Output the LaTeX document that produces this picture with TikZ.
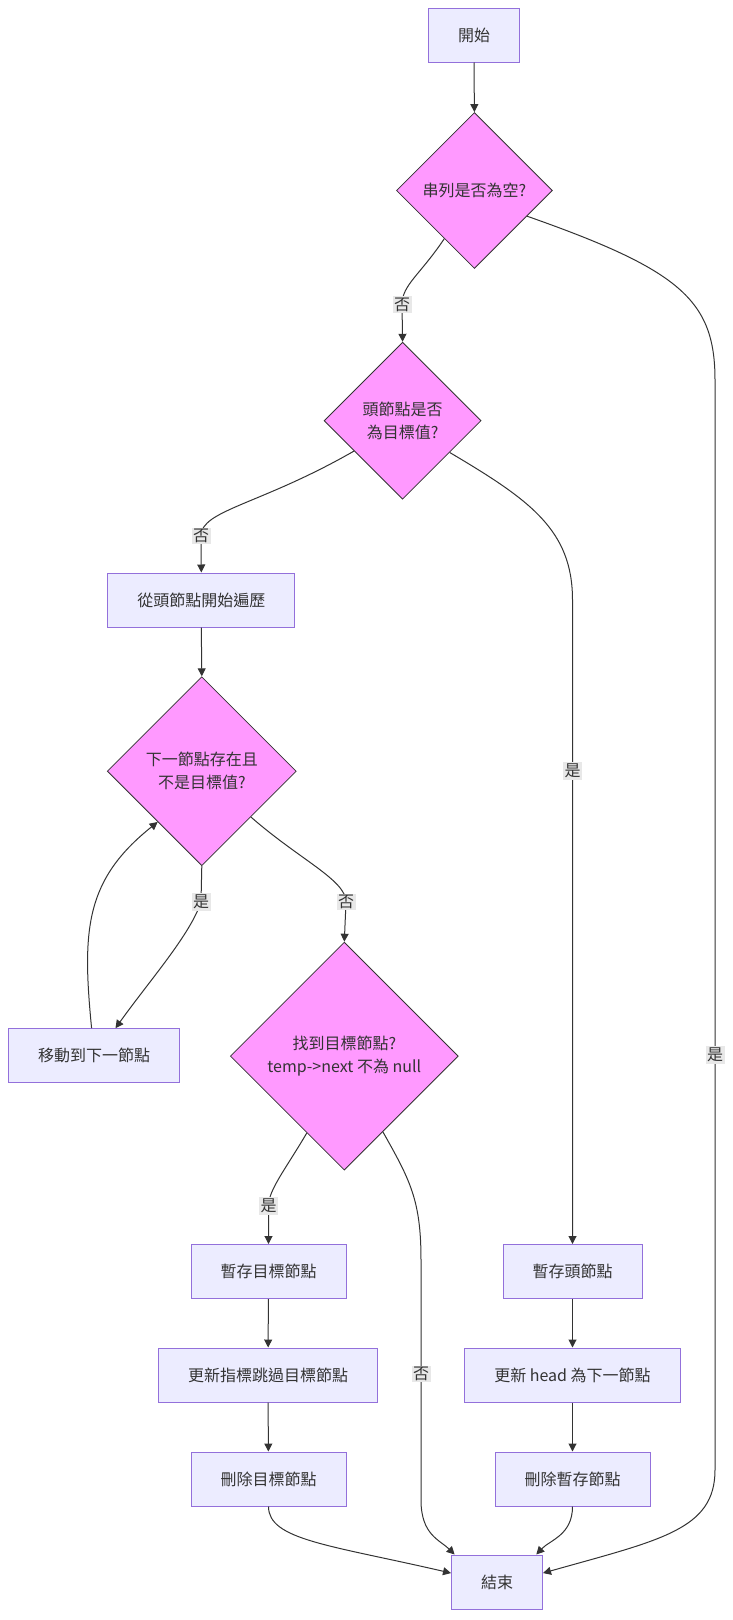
\documentclass[tikz,border=0pt]{standalone}
\usepackage{fontspec}
\setmainfont{Noto Sans CJK TC}
\usetikzlibrary{shapes.geometric, arrows.meta}

\definecolor{rellenoCaja}{HTML}{ECECFF}
\definecolor{bordeCaja}{HTML}{9370DB}
\definecolor{rellenoRombo}{HTML}{FF99FF}
\definecolor{bordeRombo}{HTML}{333333}
\definecolor{linea}{HTML}{333333}
\definecolor{fondoEtiqueta}{HTML}{E8E8E8}
\definecolor{texto}{HTML}{333333}

\begin{document}
\begin{tikzpicture}[
    x=1pt, y=-1pt,
    font=\fontsize{16}{23}\selectfont,
    % Cajas de proceso
    caja/.style={rectangle, draw=bordeCaja, fill=rellenoCaja, line width=1pt, minimum height=54pt, inner xsep=29.5pt, text=texto},
    % Rombos de decision
    decision/.style={diamond, aspect=1, draw=bordeRombo, fill=rellenoRombo, line width=0.8pt, inner sep=0pt, align=center, text=texto},
    % Conectores y etiquetas
    flecha/.style={-{Triangle[length=8pt,width=8pt]}, line width=1pt, color=linea},
    etiqueta/.style={fill=fondoEtiqueta, inner sep=1.5pt, text=texto}
]
    \useasboundingbox (0,0) rectangle (732,1620);

    % --- NODOS ---
    \node[caja] (inicio) at (474,35) {開始};
    \node[decision, minimum size=156pt] (vacia) at (474.4,190.5) {串列是否為空?};
    \node[decision, minimum size=157pt] (cabeza) at (402.6,420.7) {頭節點是否\\為目標值?};
    \node[caja] (recorrer) at (201.3,600) {從頭節點開始遍歷};
    \node[decision, minimum size=189pt] (siguiente) at (201.8,771.2) {下一節點存在且\\不是目標值?};
    \node[caja] (mover) at (94,1055.7) {移動到下一節點};
    \node[decision, minimum size=228pt] (hallado) at (344.3,1056.1) {找到目標節點?\\temp->next 不為 null};

    % Rama izquierda: borrar nodo interior
    \node[caja] (guardarT) at (268.5,1271.5) {暫存目標節點};
    \node[caja] (saltar) at (268,1375) {更新指標跳過目標節點};
    \node[caja] (borrarT) at (268.5,1479) {刪除目標節點};

    % Rama derecha: borrar la cabeza
    \node[caja] (guardarH) at (572.5,1271.5) {暫存頭節點};
    \node[caja, minimum width=216pt] (nuevaH) at (572.5,1375) {更新 head 為下一節點};
    \node[caja] (borrarH) at (572.5,1479) {刪除暫存節點};

    \node[caja] (fin) at (497,1582) {結束};

    % --- CONECTORES ---
    \draw[flecha] (inicio.south) -- (vacia.north);
    \draw[flecha] (vacia.238) .. controls (420,275) and (402,285) .. (402,304.6) node[etiqueta] {否} -- (cabeza.north);
    \draw[flecha] (vacia.334) .. controls (680,270) and (715,300) .. (715,380) -- (715,1055) node[etiqueta] {是} -- (715,1470) .. controls (715,1530) and (660,1540) .. (fin.11);

    \draw[flecha] (cabeza.212) .. controls (260,505) and (201,510) .. (201,536) node[etiqueta] {否} -- (recorrer.north);
    \draw[flecha] (cabeza.326) .. controls (530,500) and (572.5,530) .. (572.5,600) -- (572.5,771) node[etiqueta] {是} -- (guardarH.north);

    \draw[flecha] (recorrer.south) -- (siguiente.north);
    \draw[flecha] (siguiente.south) -- (201,902) node[etiqueta] {是} .. controls (190,935) and (150,980) .. (mover.52);
    \draw[flecha] (mover.95) .. controls (82,930) and (85,880) .. (siguiente.229);
    \draw[flecha] (siguiente.317) .. controls (300,860) and (346,880) .. (346,902) node[etiqueta] {否} -- (hallado.north);

    \draw[flecha] (hallado.244) .. controls (285,1170) and (268.5,1190) .. (268.5,1206) node[etiqueta] {是} -- (guardarT.north);
    \draw[flecha] (hallado.297) .. controls (410,1180) and (421,1200) .. (421,1260) -- (421,1374) node[etiqueta] {否} -- (421,1500) .. controls (421,1535) and (440,1540) .. (fin.147);

    \draw[flecha] (guardarT) -- (saltar);
    \draw[flecha] (saltar) -- (borrarT);
    \draw[flecha] (guardarH) -- (nuevaH);
    \draw[flecha] (nuevaH) -- (borrarH);

    \draw[flecha] (borrarT.south) .. controls (268.5,1540) and (330,1545) .. (fin.169);
    \draw[flecha] (borrarH.south) .. controls (572.5,1535) and (550,1540) .. (fin.35);

\end{tikzpicture}
\end{document}
